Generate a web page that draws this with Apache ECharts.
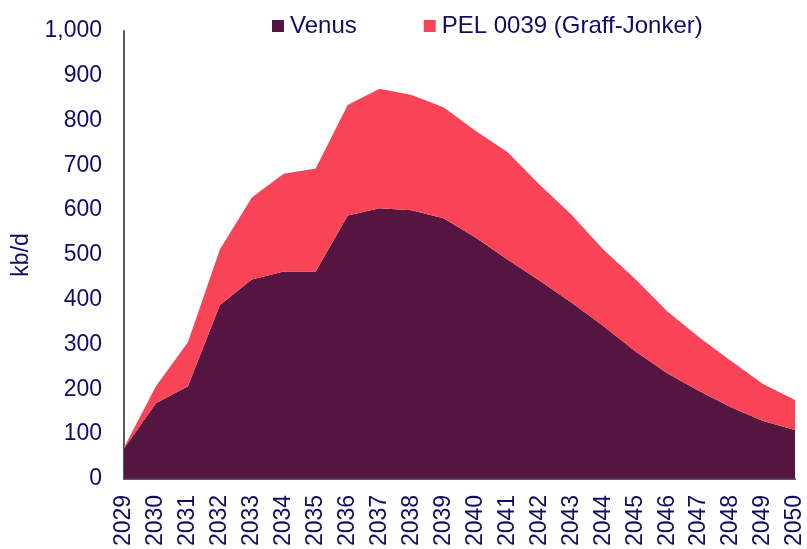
<!DOCTYPE html>
<html><head><meta charset="utf-8">
<script src="https://cdn.jsdelivr.net/npm/echarts@6/dist/echarts.min.js"></script>
<style>html,body{margin:0;padding:0;background:#fff}#c{width:807px;height:549px}</style>
</head><body><div id="c"></div>
<script>
const years = ['2029','2030','2031','2032','2033','2034','2035','2036','2037','2038','2039','2040','2041','2042','2043','2044','2045','2046','2047','2048','2049','2050'];
const venus = [68,169,207,388,445,463,463,588,604,600,582,539,490,443,394,341,285,236,196,160,129,109];
const pel = [2,38,98,124,183,218,230,247,267,257,248,238,240,214,196,171,161,138,120,103,83,67];
const seriesNames = ['Venus','PEL 0039 (Graff-Jonker)'];
const txt = '#0d0d66';
const chart = echarts.init(document.getElementById('c'));
chart.setOption({
  animation:false,
  legend:{top:9,left:267,itemGap:67,itemWidth:12,itemHeight:12,icon:'rect',
    textStyle:{color:txt,fontFamily:'Liberation Sans',fontSize:24,padding:[0,0,0,1]},data:seriesNames},
  grid:{left:124,right:12,top:31,bottom:69},
  xAxis:{type:'category',data:years,boundaryGap:false,
    axisLine:{lineStyle:{color:'#595959',width:2}},axisTick:{show:false},
    axisLabel:{rotate:90,color:txt,fontFamily:'Liberation Sans',fontSize:23,margin:16,interval:0}},
  yAxis:{type:'value',min:0,max:1000,interval:100,name:'kb/d',nameLocation:'middle',nameGap:88,
    nameTextStyle:{color:txt,fontFamily:'Liberation Sans',fontSize:23},
    axisLine:{show:true,lineStyle:{color:'#595959',width:2}},axisTick:{show:false},splitLine:{show:false},
    axisLabel:{color:txt,fontFamily:'Liberation Sans',fontSize:23,margin:22,padding:[6,0,0,0],
      formatter:v=>v.toLocaleString('en-US')}},
  series:[
    {name:seriesNames[0],type:'line',stack:'t',data:venus,symbol:'none',lineStyle:{width:0},
      itemStyle:{color:'#541640'},areaStyle:{color:'#541640',opacity:1}},
    {name:seriesNames[1],type:'line',stack:'t',data:pel,symbol:'none',lineStyle:{width:0},
      itemStyle:{color:'#f94457'},areaStyle:{color:'#f94457',opacity:1}}
  ]
});
</script></body></html>
